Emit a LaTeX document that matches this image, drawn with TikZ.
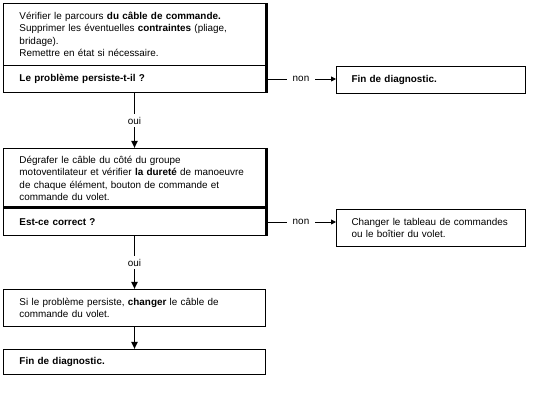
\documentclass[tikz,border=0pt]{standalone}
\usepackage{fontspec}
\setmainfont{Liberation Sans}
\usetikzlibrary{arrows.meta}
\tikzset{
  box/.style={draw,line width=1pt,anchor=north west,align=left,
    inner xsep=16pt,inner ysep=0pt,text width=230pt,
    font=\fontsize{9.9}{12.4}\selectfont},
  sidebox/.style={box,inner xsep=15pt,text width=159pt},
  ouiline/.style={line width=1.8pt,-{Triangle[length=7pt,width=6pt]}},
  nonline/.style={line width=0.9pt,-{Triangle[length=5pt,width=5pt]}},
  lbl/.style={fill=white,font=\fontsize{9.9}{12}\selectfont,inner xsep=6pt,inner ysep=3pt}
}
\begin{document}
\begin{tikzpicture}[x=1pt,y=-1pt]
  \useasboundingbox[fill=white] (0,0) rectangle (533,411);
  % left column
  \node[box,minimum height=62pt] (chk) at (3,3)
    {V\'erifier le parcours \textbf{du c\^able de commande.}\\
     Supprimer les \'eventuelles \textbf{contraintes} (pliage,\\
     bridage).\\
     Remettre en \'etat si n\'ecessaire.};
  \node[box,minimum height=27pt] (q1) at (3,65) {\textbf{Le probl\`eme persiste-t-il ?}};
  \node[box,minimum height=60pt] (act2) at (3,148)
    {D\'egrafer le c\^able du c\^ot\'e du groupe\\
     motoventilateur et v\'erifier \textbf{la duret\'e} de manoeuvre\\
     de chaque \'el\'ement, bouton de commande et\\
     commande du volet.};
  \node[box,minimum height=27pt] (q2) at (3,208) {\textbf{Est-ce correct ?}};
  \node[box,minimum height=37pt] (act3) at (3,289)
    {Si le probl\`eme persiste, \textbf{changer} le c\^able de\\
     commande du volet.};
  \node[box,minimum height=25pt] (fin2) at (3,349) {\textbf{Fin de diagnostic.}};
  % right column
  \node[sidebox,minimum height=27pt] (fin1) at (336,66) {\textbf{Fin de diagnostic.}};
  \node[sidebox,minimum height=37pt] (chg) at (336,209)
    {Changer le tableau de commandes\\
     ou le bo\^itier du volet.};
  % heavy edges
  \draw[line width=3pt] (chk.north east) -- (q1.south east);
  \draw[line width=3pt] (act2.north east) -- (q2.south east);
  \draw[line width=3pt] (q2.north west) -- (q2.north east);
  % connectors
  \draw[ouiline] (q1) -- node[lbl] {oui} (act2);
  \draw[ouiline] (q2) -- node[lbl] {oui} (act3);
  \draw[ouiline] (act3) -- (fin2);
  \draw[nonline] (q1.east) -- node[lbl] {non} (q1.east -| fin1.west);
  \draw[nonline] (q2.east) -- node[lbl] {non} (q2.east -| chg.west);
\end{tikzpicture}
\end{document}
